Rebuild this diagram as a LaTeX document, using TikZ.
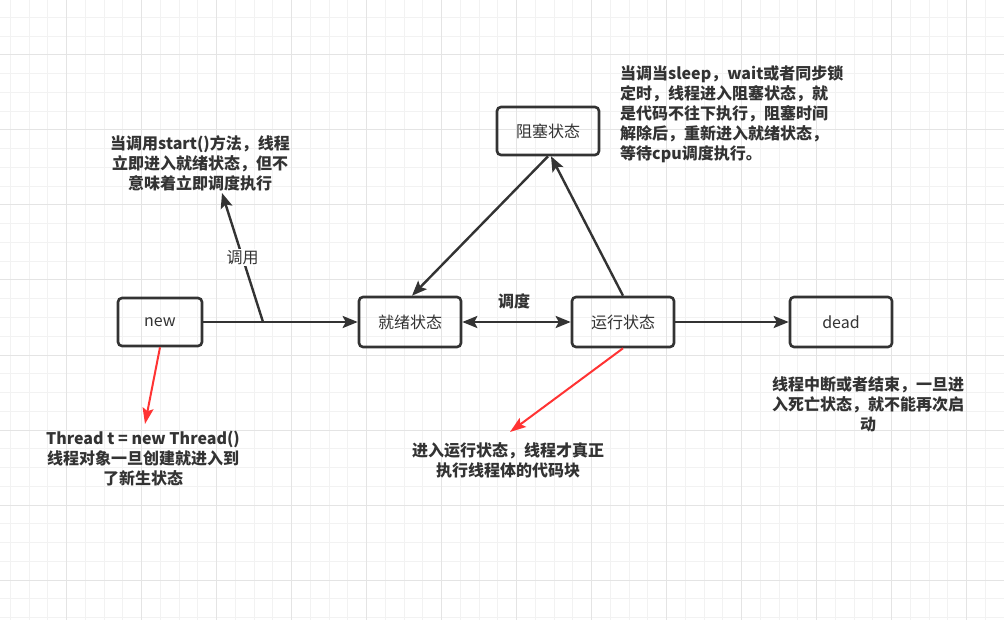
\documentclass[tikz,border=0pt]{standalone}
\usepackage{fontspec}
\setmainfont{Noto Sans CJK SC}
\usetikzlibrary{arrows.meta}
\definecolor{ink}{HTML}{333333}
\definecolor{redline}{HTML}{FF3333}
\definecolor{gridminor}{HTML}{F2F2F2}
\definecolor{gridmajor}{HTML}{E4E4E4}
\tikzset{
  state/.style={draw=ink, line width=2.6pt, rounded corners=4pt, minimum width=102pt, minimum height=50pt, text=ink, font=\fontsize{16}{20}\selectfont, inner sep=0pt},
  note/.style={text=ink, font=\fontsize{16}{20}\selectfont\bfseries, align=center, inner sep=0pt},
  conn/.style={draw=ink, line width=2.4pt, -{Stealth[length=15pt,width=12pt,inset=3pt]}},
  biconn/.style={draw=ink, line width=2.4pt, {Stealth[length=15pt,width=12pt,inset=3pt]}-{Stealth[length=15pt,width=12pt,inset=3pt]}},
  redconn/.style={draw=redline, line width=2pt, -{Stealth[length=16pt,width=11pt,inset=3pt]}},
  minorline/.style={draw=gridminor, line width=1pt},
  majorline/.style={draw=gridmajor, line width=1pt},
}
\begin{document}
\begin{tikzpicture}[x=1pt,y=-1pt]
\useasboundingbox (0,0) rectangle (1004,620);
\fill[white] (0,0) rectangle (1004,620);
% grid
\foreach \i in {0,...,53} {\draw[minorline] ({10.45+\i*18.75},0) -- ({10.45+\i*18.75},620);}
\foreach \i in {0,...,33} {\draw[minorline] (0,{-1.25+\i*18.75}) -- (1004,{-1.25+\i*18.75});}
\foreach \i in {0,...,12} {\draw[majorline] ({66.7+\i*75},0) -- ({66.7+\i*75},620);}
\foreach \i in {0,...,7} {\draw[majorline] (0,{55+\i*75}) -- (1004,{55+\i*75});}

% states
\node[state, minimum width=84pt, minimum height=48pt] (new) at (160,322) {new};
\node[state] (ready) at (410,322) {就绪状态};
\node[state] (run) at (623,322) {运行状态};
\node[state] (dead) at (841,322) {dead};
\node[state, minimum height=48pt] (blocked) at (548,131) {阻塞状态};

% notes
\node[note] (startnote) at (200,163) {当调用start()方法，线程\\立即进入就绪状态，但不\\意味着立即调度执行};
\node[note, align=left, anchor=west] (blocknote) at (620,114) {当调当sleep，wait或者同步锁\\定时，线程进入阻塞状态，就\\是代码不往下执行，阻塞时间\\解除后，重新进入就绪状态，\\等待cpu调度执行。};
\node[note] (newnote) at (143,459) {Thread t = new Thread()\\线程对象一旦创建就进入到\\了新生状态};
\node[note] (runnote) at (508,460) {进入运行状态，线程才真正\\执行线程体的代码块};
\node[note] (deadnote) at (868,404) {线程中断或者结束，一旦进\\入死亡状态，就不能再次启\\动};
\node[note] (schedlabel) at (514,301) {调度};

% connectors
\coordinate (callstart) at (263,322);
\coordinate (callend) at (222,193);
\draw[conn] (new) -- (ready);
\draw[conn] (callstart) -- node[midway, fill=white, inner sep=1.5pt, text=ink, font=\fontsize{16}{20}\selectfont] (calllabel) {调用} (callend);
\draw[conn] (blocked.south) -- ([xshift=2pt]ready.north);
\draw[conn] (run.north) -- ([xshift=3pt]blocked.south);
\draw[biconn] (ready) -- (run);
\draw[conn] (run) -- (dead);
\coordinate (newtip) at (145,424);
\coordinate (runtip) at (510,432);
\draw[redconn] (new.south) -- (newtip);
\draw[redconn] (run.south) -- (runtip);
\end{tikzpicture}
\end{document}
